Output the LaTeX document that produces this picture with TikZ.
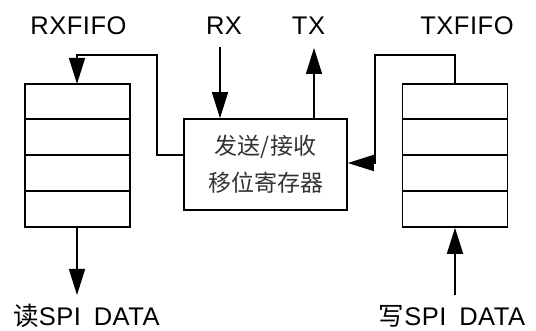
\documentclass[tikz,border=0pt]{standalone}
\usepackage{fontspec}
\setmainfont{Liberation Sans}[LetterSpace=2]
\newfontfamily\cjk{Noto Sans CJK SC}
\usetikzlibrary{arrows.meta}
\begin{document}
\begin{tikzpicture}[x=1pt,y=1pt,
  ln/.style={line width=1.6pt},
  arr/.style={ln,-{Triangle[length=26pt,width=16pt]}},
  fifo/.style={draw,ln,minimum width=105pt,minimum height=143pt,inner sep=0pt},
  lbl/.style={font=\fontsize{25.5pt}{27pt}\selectfont,inner sep=0pt,anchor=base}]
\useasboundingbox (0,0) rectangle (536,331);
% FIFOs
\node[fifo] (rxf) at (77.5,175.5) {};
\node[fifo] (txf) at (455,175.5) {};
\foreach \f in {rxf,txf}{
  \foreach \y in {212,176,140}{
    \draw[ln] (\f.west |- 0,\y) -- (\f.east |- 0,\y);
  }
}
% shift register
\node[draw,ln,minimum width=163pt,minimum height=91pt,inner sep=0pt,align=center,
  text=black!80,font=\cjk\fontsize{23pt}{37pt}\selectfont] (box) at (265.5,166.5)
  {发送/接收\\移位寄存器};
% labels
\node[lbl] (rxl) at (78.5,296) {RXFIFO};
\node[lbl] (rx) at (224,296) {RX};
\node[lbl] (tx) at (308.5,296) {TX};
\node[lbl] (txl) at (467,296) {TXFIFO};
\node[lbl] (rd) at (86.5,5) {{\cjk 读}SPI\hspace{0.2em} DATA};
\node[lbl] (wr) at (452,5) {{\cjk 写}SPI\hspace{0.2em} DATA};
% coordinates
\coordinate (rxs) at (220,284);
\coordinate (txe) at (314,283);
\coordinate (rde) at (77,36);
\coordinate (wrs) at (455,36);
% connectors
\draw[arr] (rxs) -- (rxs |- box.north);
\draw[arr] (txe |- box.north) -- (txe);
\draw[arr] (box.west |- 0,176) -- (157,176) -- (157,276) -- (77,276) -- (77,247);
\draw[arr] (txf.north) -- (455,276) -- (375,276) -- (375,168) -- (box.east |- 0,168);
\draw[arr] (77,104) -- (rde);
\draw[arr] (wrs) -- (txf.south);
\end{tikzpicture}
\end{document}
